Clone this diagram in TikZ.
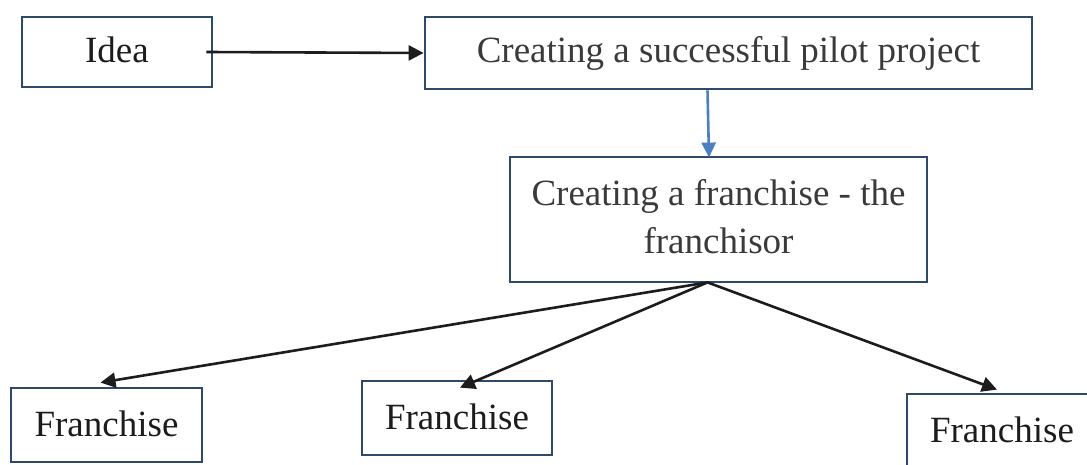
\documentclass[tikz,border=0pt]{standalone}
\usepackage{fontspec}
\setmainfont{Liberation Serif}
\usetikzlibrary{arrows.meta}
\definecolor{boxc}{HTML}{2E4A6B}
\definecolor{txtc}{HTML}{3A3A3A}
\definecolor{arrc}{HTML}{1C1C1C}
\definecolor{bluec}{HTML}{4A80C0}
\begin{document}
\begin{tikzpicture}[x=1pt,y=1pt,
  boxn/.style={draw=boxc, line width=2.8pt, rectangle, inner sep=0pt, align=center,
    text=txtc, font=\fontsize{37}{48}\selectfont},
  arr/.style={draw=arrc, line width=2.6pt, -{Triangle[length=15pt,width=15pt]}},
  barr/.style={draw=bluec, line width=2.6pt, -{Triangle[length=15pt,width=14pt]}}]
\useasboundingbox (0,0) rectangle (1087,464);
\node[boxn, minimum width=190, minimum height=70, text=arrc] (idea) at (117,412) {\raisebox{4pt}{Idea}};
\node[boxn, minimum width=607, minimum height=72] (pilot) at (728.5,411) {\raisebox{3pt}{Creating a successful pilot project}};
\node[boxn, minimum width=417, minimum height=125] (fr) at (718.5,244.5) {\raisebox{4pt}{\begin{tabular}{@{}c@{}}Creating a franchise - the\\franchisor\end{tabular}}};
\node[boxn, minimum width=191, minimum height=74, text=arrc] (f1) at (106.5,39) {\raisebox{3pt}{Franchise}};
\node[boxn, minimum width=190, minimum height=74, text=arrc] (f2) at (457,46) {\raisebox{3pt}{Franchise}};
\node[boxn, minimum width=190, minimum height=74, text=arrc] (f3) at (1002,33) {\raisebox{3pt}{Franchise}};
\coordinate (ideaout) at ([xshift=-7]idea.east);
\coordinate (pout) at ([xshift=-21]pilot.south);
\coordinate (frin) at ([xshift=-9.5,yshift=-2]fr.north);
\coordinate (frout) at ([xshift=-11,yshift=1]fr.south);
\coordinate (t1) at ([xshift=-6,yshift=4]f1.north);
\coordinate (t2) at ([xshift=3,yshift=-8]f2.north);
\coordinate (t3) at ([xshift=-5,yshift=3]f3.north);
\draw[arr] (ideaout) -- (pilot.west);
\draw[barr] (pout) -- (frin);
\draw[arr] (frout) -- (t1);
\draw[arr] (frout) -- (t2);
\draw[arr] (frout) -- (t3);
\end{tikzpicture}
\end{document}
